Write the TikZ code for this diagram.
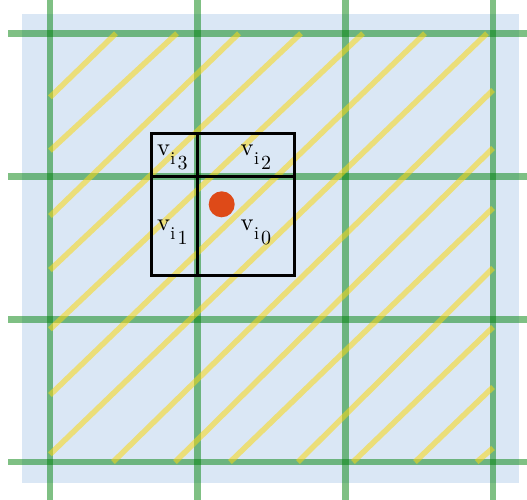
\documentclass[tikz,border=0pt]{standalone}
\usepackage{fontspec}
\usepackage{graphicx}
\definecolor{bgblue}{RGB}{218,231,245}
\definecolor{gridgreen}{RGB}{0,130,10}
\definecolor{hatchyellow}{RGB}{250,215,20}
\definecolor{dotred}{RGB}{222,74,24}
\tikzset{
  gridline/.style={draw=gridgreen, line width=6.5pt, opacity=0.5},
  hatchline/.style={draw=hatchyellow, line width=5.5pt, opacity=0.55, line cap=butt},
  boxline/.style={draw=black, line width=3pt},
  lbl/.style={anchor=base west, inner sep=0pt, outer sep=0pt, font=\fontsize{10}{10}\selectfont}
}
\newcommand\vlabel[1]{\scalebox{2.45}{v}\kern0.4pt\raisebox{-9.3pt}{\scalebox{1.8}{i}}\kern2.2pt\raisebox{-14.5pt}{\scalebox{2.0}{#1}}}
\begin{document}
\begin{tikzpicture}[x=1pt,y=-1pt]
\useasboundingbox (0,0) rectangle (527,499);
% background
\fill[bgblue] (22,14) rectangle (519,483);
% grid lines
\foreach \x in {50,197.7,345.3,493} \draw[gridline] (\x,-10) -- (\x,510);
\foreach \y in {33.3,176.7,319.3,462} \draw[gridline] (8,\y) -- (540,\y);
% hatch lines (upper-left family)
\foreach \a/\b in {116/97.3,177/150.7,239/216,301/270,363/329.3,425/395,487/454.3}
  \draw[hatchline] (\a,33.3) -- (50,\b);
% hatch lines (lower-right family)
\foreach \a/\b in {90/113,148/175,208/230,268/298,327/353,387/415,448/476.7}
  \draw[hatchline] (493,\a) -- (\b,462);
% box
\draw[boxline] (151.7,133.3) rectangle (294,275);
\coordinate (vt) at (197.7,133.3);
\coordinate (vb) at (197.7,275);
\coordinate (hl) at (151.7,176.7);
\coordinate (hr) at (294,176.7);
\draw[boxline] (vt) -- (vb);
\draw[boxline] (hl) -- (hr);
% point
\fill[dotred] (221.7,204.3) circle (13);
% labels
\node[lbl] (l3) at (157,155) {\vlabel{3}};
\node[lbl] (l2) at (240.7,155) {\vlabel{2}};
\node[lbl] (l1) at (157,230) {\vlabel{1}};
\node[lbl] (l0) at (240.7,230) {\vlabel{0}};
\end{tikzpicture}
\end{document}
